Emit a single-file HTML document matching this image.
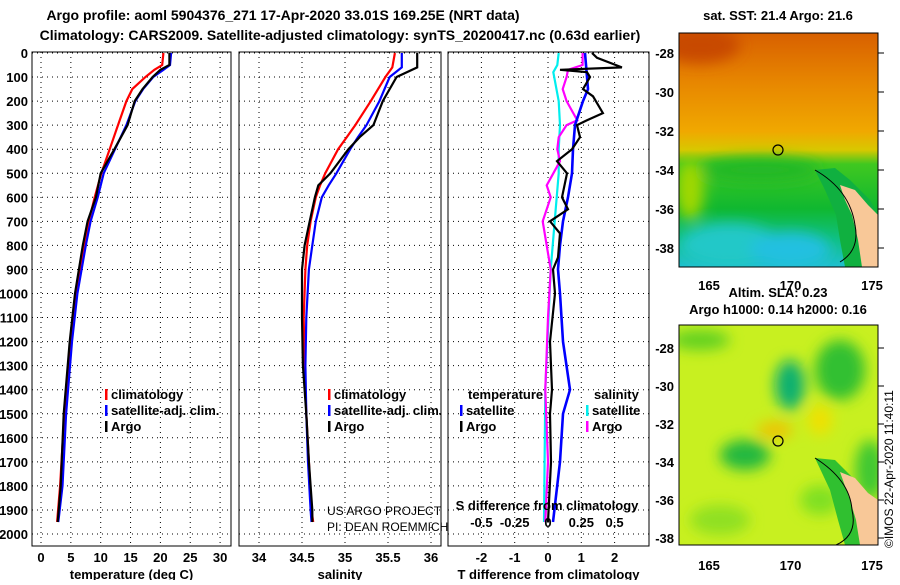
<!DOCTYPE html>
<html><head><meta charset="utf-8"><style>
body{margin:0;background:#fff}
svg text{font-family:"Liberation Sans",sans-serif;font-weight:bold;font-size:13px;fill:#000}
</style></head><body>
<svg id="c" width="900" height="580" viewBox="0 0 900 580" xmlns="http://www.w3.org/2000/svg">
<defs>
<filter id="bl" x="-50%" y="-50%" width="200%" height="200%"><feGaussianBlur stdDeviation="7"/></filter>
<linearGradient id="sstg" x1="0" y1="0" x2="0" y2="1">
<stop offset="0" stop-color="#d86000"/><stop offset="0.22" stop-color="#e88800"/><stop offset="0.42" stop-color="#f0a800"/><stop offset="0.5" stop-color="#d8c800"/><stop offset="0.56" stop-color="#40c820"/><stop offset="0.75" stop-color="#10b830"/><stop offset="0.88" stop-color="#10c080"/><stop offset="1" stop-color="#20c0d0"/></linearGradient>
<clipPath id="cp1"><rect x="679" y="33" width="199" height="234"/></clipPath>
<clipPath id="cp2"><rect x="679" y="325" width="199" height="220"/></clipPath>
</defs>
<text x="283" y="20" text-anchor="middle" style="font-size:14px">Argo profile: aoml 5904376_271 17-Apr-2020 33.01S 169.25E (NRT data)</text>
<text x="340" y="40" text-anchor="middle" style="font-size:14px">Climatology: CARS2009. Satellite-adjusted climatology: synTS_20200417.nc (0.63d earlier)</text>
<g id="panels"></g>
<g clip-path="url(#cp1)">
<rect x="679" y="33" width="199" height="234" fill="url(#sstg)"/>
<g filter="url(#bl)">
<ellipse cx="700" cy="45" rx="40" ry="18" fill="#c84800"/>
<ellipse cx="690" cy="190" rx="14" ry="30" fill="#a0d800"/>
<ellipse cx="730" cy="245" rx="50" ry="22" fill="#20c8c8"/>
<ellipse cx="790" cy="250" rx="40" ry="18" fill="#20c0e0"/>
<ellipse cx="760" cy="170" rx="60" ry="12" fill="#20b828"/>
</g>
<path d="M815 170 L835 168 L850 180 L870 200 L878 215 L878 267 L845 267 L840 240 L836 215 L825 190 Z" fill="#10b040"/>
<path d="M840 185 L855 190 L868 205 L878 215 L878 267 L862 267 L858 240 L852 215 L845 200 Z" fill="#f8c898"/>
<path d="M815 170 Q850 190 855 225 Q860 250 840 262" fill="none" stroke="#000" stroke-width="1"/>
</g>
<rect x="679" y="33" width="199" height="234" fill="none" stroke="#000"/>
<circle cx="778" cy="150" r="5" fill="none" stroke="#000" stroke-width="1.2"/>
<g clip-path="url(#cp2)">
<rect x="679" y="325" width="199" height="220" fill="#c8f020"/>
<g filter="url(#bl)">
<ellipse cx="790" cy="385" rx="15" ry="25" fill="#10b070"/>
<ellipse cx="745" cy="455" rx="25" ry="15" fill="#20b840"/>
<ellipse cx="840" cy="370" rx="25" ry="30" fill="#30c030"/>
<ellipse cx="700" cy="340" rx="30" ry="10" fill="#60d020"/>
<ellipse cx="775" cy="430" rx="18" ry="8" fill="#f0c000"/>
<ellipse cx="820" cy="420" rx="12" ry="15" fill="#f0e000"/>
<ellipse cx="870" cy="470" rx="15" ry="30" fill="#40c830"/>
<ellipse cx="720" cy="520" rx="30" ry="15" fill="#90e020"/>
<ellipse cx="820" cy="500" rx="20" ry="15" fill="#80e020"/>
</g>
<path d="M815 458 L835 460 L850 475 L870 495 L878 510 L878 545 L845 545 L838 520 L830 490 Z" fill="#30c030"/>
<path d="M840 472 L855 478 L868 493 L878 500 L878 545 L860 545 L856 520 L850 500 Z" fill="#f8c898"/>
<path d="M815 458 Q850 480 852 510 Q858 535 836 545" fill="none" stroke="#000" stroke-width="1"/>
</g>
<rect x="679" y="325" width="199" height="220" fill="none" stroke="#000"/>
<circle cx="778" cy="441" r="5" fill="none" stroke="#000" stroke-width="1.2"/>
<text x="778" y="20" text-anchor="middle">sat. SST: 21.4 Argo: 21.6</text>
<text x="778" y="297" text-anchor="middle">Altim. SLA: 0.23</text>
<text x="778" y="314" text-anchor="middle">Argo h1000: 0.14 h2000: 0.16</text>
<text transform="translate(893,548) rotate(-90)" style="font-weight:normal;font-size:12px">©IMOS 22-Apr-2020 11:40:11</text>
<g id="mapaxes"></g>
</svg>
<script>
const tDepth=[0,50,70,100,150,200,300,400,500,600,700,800,1000,1200,1500,1800,1950];
const tArgo=[21.5,21.5,20,18.7,17,15.7,14.5,12.3,10,9.2,7.8,7,5.7,4.8,3.8,3.3,2.8];
const tClim=[20.5,20.3,19,17.5,15.3,14.3,12.9,11.5,10.1,9,8,7.2,5.8,4.9,3.9,3.2,2.7];
const tSat=[21.8,21.6,20.5,18.8,17.1,15.8,14.3,12.4,10.5,9.5,8.3,7.5,6.1,5.2,4.2,3.6,2.9];
const sDepth=[0,60,100,200,300,350,400,500,550,600,700,800,900,1100,1300,1500,1700,1900,1950];
const sArgo=[35.84,35.84,35.6,35.44,35.33,35.17,35.04,34.83,34.69,34.65,34.59,34.53,34.5,34.5,34.51,34.55,34.58,34.62,34.62];
const sClim=[35.58,35.55,35.47,35.3,35.12,35.02,34.92,34.77,34.71,34.66,34.6,34.56,34.54,34.52,34.53,34.55,34.58,34.61,34.63];
const sSat=[35.66,35.66,35.52,35.4,35.25,35.15,35.06,34.9,34.81,34.73,34.66,34.62,34.58,34.55,34.54,34.55,34.57,34.6,34.61];
const dtArgoDepth=[0,20,60,70,80,100,150,180,250,280,300,350,400,450,500,600,650,700,750,850,900,1000,1200,1400,1500,1700,1950];
const dtArgo=[1.32,1.47,2.22,0.36,1.17,1.26,1.05,1.35,1.65,1.17,0.87,0.96,0.72,0.27,0.57,0.42,0.6,0.06,0.36,0.3,0.15,0.21,0.06,0.12,0.06,0.09,0.0];
const dtSatDepth=[0,100,150,200,300,400,500,600,700,800,900,1000,1200,1400,1500,1700,1950];
const dtSat=[1.11,1.17,1.2,1.05,0.81,0.75,0.72,0.6,0.45,0.36,0.3,0.36,0.45,0.66,0.45,0.36,0.15];
const dsArgoDepth=[0,50,70,100,150,200,280,300,350,400,450,550,600,700,800,900,1100,1400,1700,1950];
const dsArgo=[0.26,0.26,0.15,0.14,0.11,0.14,0.22,0.14,0.08,0.07,0.09,-0.01,0.02,-0.04,-0.01,0.02,0,-0.02,0,-0.02];
const dsSatDepth=[0,50,80,200,300,400,500,700,900,1400,1950];
const dsSat=[0.08,0.07,0.04,0.08,0.09,0.08,0.08,0.05,0.02,-0.02,-0.03];
const depthTicks=[0,100,200,300,400,500,600,700,800,900,1000,1100,1200,1300,1400,1500,1600,1700,1800,1900,2000];
const tTicks=[0,5,10,15,20,25,30];
const sTicks=[34,34.5,35,35.5,36];
const dTicks=[-2,-1,0,1,2];
const dsTicks=["-0.5","-0.25","0","0.25","0.5"];
const latTicks=[-28,-30,-32,-34,-36,-38];
const lonTicks=[165,170,175];

const NS='http://www.w3.org/2000/svg';
const G=document.getElementById('panels');
function mk(t,a,p){const e=document.createElementNS(NS,t);for(const k in a)e.setAttribute(k,a[k]);(p||G).appendChild(e);return e;}
const yD=d=>53+d*0.2405;
const pTop=52,pBot=546;
const panels=[
 {x0:32,x1:231,f:v=>41+v*5.97,ticks:tTicks,name:'temperature-panel',title:'temperature (deg C)'},
 {x0:239,x1:441,f:v=>259+(v-34)*86,ticks:sTicks,name:'salinity-panel',title:'salinity'},
 {x0:448,x1:649,f:v=>548+v*33.3,ticks:dTicks,name:'difference-panel',title:'T difference from climatology'}];
panels.forEach((p,i)=>{
 const g=mk('g',{});
 
 
 depthTicks.forEach(d=>{const l=mk('line',{x1:p.x0,x2:p.x1,y1:yD(d),y2:yD(d),stroke:'#000','stroke-dasharray':'1,4'},g);
  
  });
 p.ticks.forEach(v=>{const x=p.f(v);const l=mk('line',{x1:x,x2:x,y1:pTop,y2:pBot,stroke:'#000','stroke-dasharray':'1,4'},g);
  
  
  const t=mk('text',{x:x,y:562,'text-anchor':'middle'},g);t.textContent=v;
  
  });
 const r=mk('rect',{x:p.x0,y:pTop,width:p.x1-p.x0,height:pBot-pTop,fill:'none',stroke:'#000'},g);
 
 
 const tt=mk('text',{x:(p.x0+p.x1)/2,y:579,'text-anchor':'middle'},g);tt.textContent=p.title;
 
 
});
depthTicks.forEach(d=>{const t=mk('text',{x:28,y:yD(d)+5,'text-anchor':'end'});t.textContent=d;
 
 });
function line(dep,val,f,col,name,w){
 const pts=dep.map((d,i)=>f(val[i]).toFixed(1)+','+yD(d).toFixed(1)).join(' ');
 const l=mk('polyline',{points:pts,fill:'none',stroke:col,'stroke-width':w||2.2});
 
 }
const P=panels;
line(tDepth,tClim,P[0].f,'#f00','temp-climatology-line');
line(tDepth,tSat,P[0].f,'#00f','temp-satellite-line');
line(tDepth,tArgo,P[0].f,'#000','temp-argo-line');
line(sDepth,sClim,P[1].f,'#f00','sal-climatology-line');
line(sDepth,sSat,P[1].f,'#00f','sal-satellite-line');
line(sDepth,sArgo,P[1].f,'#000','sal-argo-line');
const fs=v=>548+v*133.2;
line(dsSatDepth,dsSat,fs,'#0ee','sdiff-satellite-line');
line(dsArgoDepth,dsArgo,fs,'#f0f','sdiff-argo-line');
line(dtSatDepth,dtSat,P[2].f,'#00f','tdiff-satellite-line',2.6);
line(dtArgoDepth,dtArgo,P[2].f,'#000','tdiff-argo-line');
dsTicks.forEach(s=>{const t=mk('text',{x:fs(parseFloat(s)),y:527,'text-anchor':'middle'});t.textContent=s;
 
 });
function txt(x,y,s,name,anchor,style){const t=mk('text',{x:x,y:y,'text-anchor':anchor||'start'});if(style)t.setAttribute('style',style);t.textContent=s;
 
 return t;}
function leg(x,y,col,s,name){const r=mk('rect',{x:x,y:y-10,width:2.5,height:11,fill:col});
 
 txt(x+6,y,s,name);}
txt(547,510,'S difference from climatology','sdiff-axis-title','middle');
leg(105,399,'#f00','climatology','legend-climatology');
leg(105,415,'#00f','satellite-adj. clim.','legend-satellite');
leg(105,431,'#000','Argo','legend-argo');
leg(328,399,'#f00','climatology','legend2-climatology');
leg(328,415,'#00f','satellite-adj. clim.','legend2-satellite');
leg(328,431,'#000','Argo','legend2-argo');
txt(468,399,'temperature','legend-temperature-heading');
leg(460,415,'#00f','satellite','legend-t-satellite');
leg(460,431,'#000','Argo','legend-t-argo');
txt(594,399,'salinity','legend-salinity-heading');
leg(586,415,'#0ee','satellite','legend-s-satellite');
leg(586,431,'#f0f','Argo','legend-s-argo');
txt(327,515,'US ARGO PROJECT','project-credit','start','font-weight:normal;font-size:12px');
txt(327,531,'PI: DEAN ROEMMICH','pi-credit','start','font-weight:normal;font-size:12px');
const MA=document.getElementById('mapaxes');
[{y0:53,ly:290},{y0:348,ly:570}].forEach((m,j)=>{
 const step=j==0?19.5:19.0;
 latTicks.forEach((la,i)=>{const y=m.y0+i*2*step;
  const l=mk('line',{x1:878,x2:884,y1:y,y2:y,stroke:'#000'},MA);
  
  
  const t=mk('text',{x:674,y:y+5,'text-anchor':'end'},MA);t.textContent=la;
  
  });
 lonTicks.forEach(lo=>{const x=709+(lo-165)*16.3;
  const t=mk('text',{x:x,y:m.ly,'text-anchor':'middle'},MA);t.textContent=lo;
  
  });
});
</script>
</body></html>
